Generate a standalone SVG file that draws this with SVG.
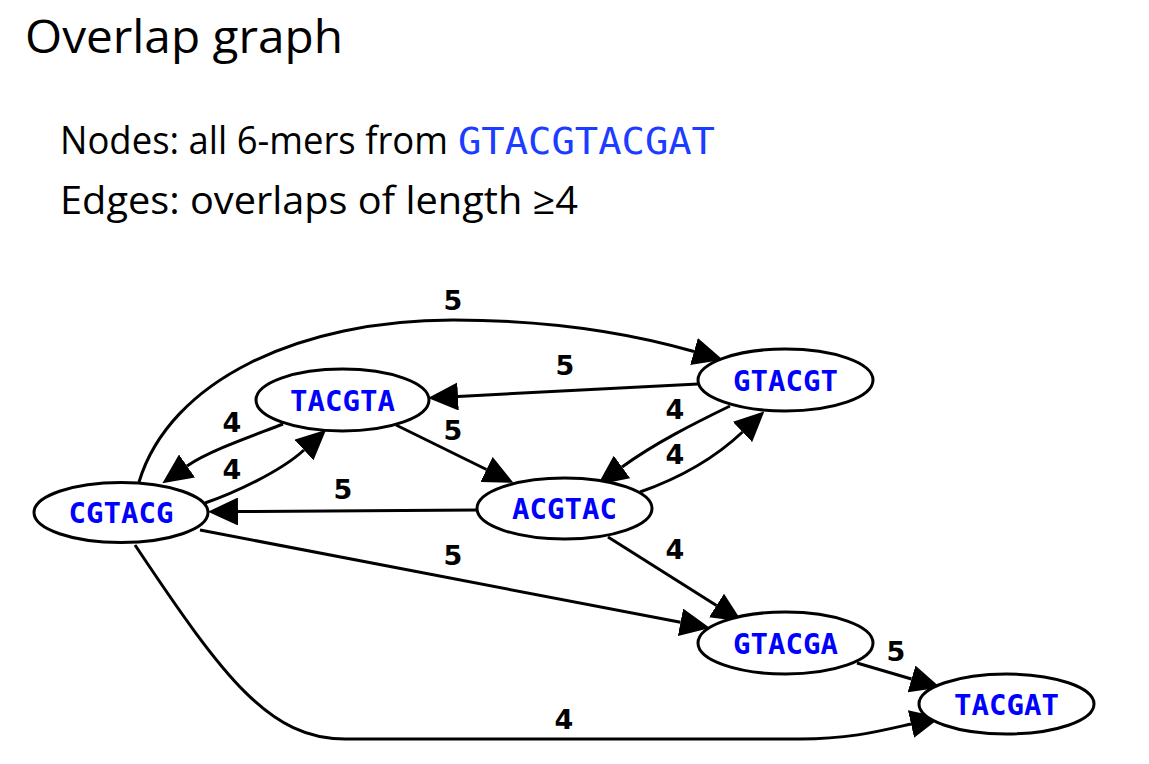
<svg xmlns="http://www.w3.org/2000/svg" width="1149" height="764" viewBox="0 0 1149 764">
<style>
.title{font-family:"Open Sans","Liberation Sans",sans-serif;font-size:46px;fill:#000}
.sub{font-family:"Open Sans","Liberation Sans",sans-serif;font-size:38px;fill:#000}
.seq{font-family:"DejaVu Sans Mono","Liberation Mono",monospace;font-size:38px;fill:#1c3cff}
.node ellipse{fill:#fff;stroke:#000;stroke-width:3}
.node text{font-family:"DejaVu Sans Mono","Liberation Mono",monospace;font-weight:bold;font-size:29px;fill:#0000ff;text-anchor:middle}
.edge{fill:none;stroke:#000;stroke-width:3;marker-end:url(#ah)}
.lbl{font-family:"DejaVu Sans","Liberation Sans",sans-serif;font-weight:bold;font-size:27px;fill:#000;text-anchor:middle}
</style>
<defs>
<marker id="ah" markerUnits="userSpaceOnUse" markerWidth="30" markerHeight="28" viewBox="0 0 30 28" refX="0" refY="14" orient="auto">
<path d="M0,0 L30,14 L0,28 Z" fill="#000"/>
</marker>
</defs>
<rect width="1149" height="764" fill="#fff"/>
<text class="title" x="25" y="53" textLength="318" lengthAdjust="spacingAndGlyphs">Overlap graph</text>
<text class="sub" x="60" y="154" textLength="388" lengthAdjust="spacingAndGlyphs">Nodes: all 6-mers from</text>
<text class="seq" x="458" y="154" textLength="257" lengthAdjust="spacingAndGlyphs">GTACGTACGAT</text>
<text class="sub" x="60" y="214" textLength="518" lengthAdjust="spacingAndGlyphs">Edges: overlaps of length ≥4</text>

<g id="edges">
<path id="e1" class="edge" d="M139,482 C170,380 300,320 453,320 C560,320 640,336 694,351.5"/>
<path id="e2" class="edge" d="M698,384 L458,396.4"/>
<path id="e3" class="edge" d="M283,424 C258,434 210,450 187,466"/>
<path id="e4" class="edge" d="M205,503 C232,494 280,472 304,450"/>
<path id="e5" class="edge" d="M396,425 L486.5,469.5"/>
<path id="e6" class="edge" d="M477,510 L238,511.5"/>
<path id="e7" class="edge" d="M730,406 C695,423 655,443 622,467"/>
<path id="e8" class="edge" d="M640,492 C680,478 715,458 742.5,432"/>
<path id="e9" class="edge" d="M608,537 L716.5,605.5"/>
<path id="e10" class="edge" d="M200,530 L680.5,622.3"/>
<path id="e11" class="edge" d="M857,663 L911.5,679"/>
<path id="e12" class="edge" d="M135,545 C225,680 270,739 345,739 L800,739 C850,739 880,731 911,724"/>
<text class="lbl" x="453" y="310">5</text>
<text class="lbl" x="565" y="375">5</text>
<text class="lbl" x="232" y="432">4</text>
<text class="lbl" x="232" y="479">4</text>
<text class="lbl" x="453" y="440">5</text>
<text class="lbl" x="343" y="499">5</text>
<text class="lbl" x="675" y="419">4</text>
<text class="lbl" x="675" y="464">4</text>
<text class="lbl" x="675" y="559">4</text>
<text class="lbl" x="453" y="565">5</text>
<text class="lbl" x="896" y="661">5</text>
<text class="lbl" x="564" y="729">4</text>
</g>

<g id="CGTACG" class="node"><ellipse cx="121" cy="512.5" rx="87" ry="30"/><text x="121" y="523">CGTACG</text></g>
<g id="TACGTA" class="node"><ellipse cx="342.5" cy="400" rx="86.5" ry="31"/><text x="342.5" y="410.5">TACGTA</text></g>
<g id="ACGTAC" class="node"><ellipse cx="564.5" cy="508.5" rx="87.5" ry="30.5"/><text x="564.5" y="519">ACGTAC</text></g>
<g id="GTACGT" class="node"><ellipse cx="785.5" cy="380" rx="87.5" ry="31"/><text x="785.5" y="390.5">GTACGT</text></g>
<g id="GTACGA" class="node"><ellipse cx="785.5" cy="643" rx="87.5" ry="31"/><text x="785.5" y="653.5">GTACGA</text></g>
<g id="TACGAT" class="node"><ellipse cx="1006.5" cy="704" rx="87.5" ry="30"/><text x="1006.5" y="714.5">TACGAT</text></g>
</svg>
